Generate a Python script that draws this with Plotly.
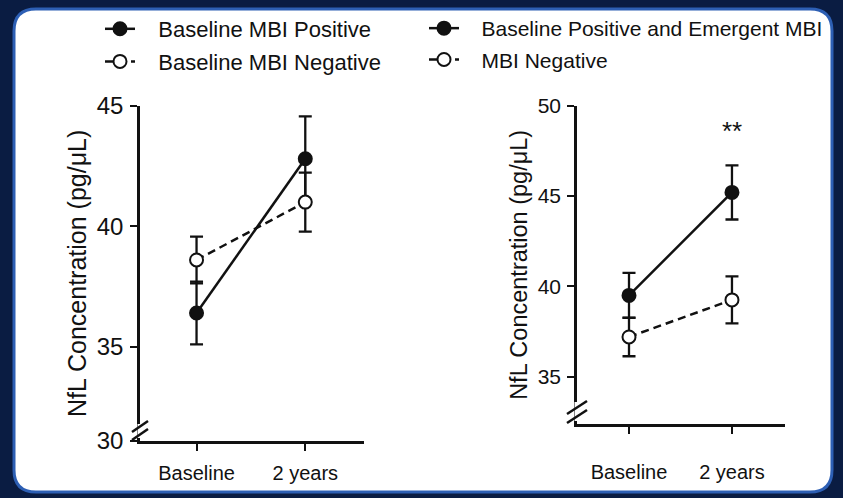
import plotly.graph_objects as go

# ---- data: NfL concentration (mean and SEM) at two visits ----
timepoints = ["Baseline", "2 years"]

left_pos_name = "Baseline MBI Positive"
left_pos_mean = [36.4, 42.8]
left_pos_sem = [1.3, 1.76]

left_neg_name = "Baseline MBI Negative"
left_neg_mean = [38.6, 41.0]
left_neg_sem = [0.97, 1.22]

right_pos_name = "Baseline Positive and Emergent MBI"
right_pos_mean = [39.5, 45.2]
right_pos_sem = [1.25, 1.5]

right_neg_name = "MBI Negative"
right_neg_mean = [37.2, 39.25]
right_neg_sem = [1.07, 1.3]

left_ticks = [35, 40, 45]
right_ticks = [35, 40, 45, 50]
left_floor_label = "30"
significance = "**"

W, H = 843, 498
FONT = "Liberation Sans, Arial, sans-serif"
INK = "#111111"
PAD = "\u00a0\u00a0\u00a0"  # extra room between legend symbol and label

# plot-area placement (pixels)
L_X0, L_X1, L_YTOP, L_YBOT = 140, 364, 105.7, 441
R_X0, R_X1, R_YTOP, R_YBOT = 577, 785, 105.7, 424

left_range = [31.09, 45]
right_range = [32.38, 50]


def series(x, y, err, name, filled, dash, xa, ya, legend, group):
    return go.Scatter(
        x=x, y=y, name=PAD + name, mode="lines+markers",
        xaxis=xa, yaxis=ya, legend=legend, legendgroup=group,
        line=dict(color=INK, width=2.5, dash=dash),
        marker=dict(size=13, symbol="circle",
                    color=INK if filled else "white",
                    line=dict(color=INK, width=2)),
        error_y=dict(type="data", array=err, visible=True,
                     color=INK, thickness=2.3, width=6.5),
        cliponaxis=False,
    )


DASH = "8px,5px"
fig = go.Figure()
fig.add_trace(series(timepoints, left_pos_mean, left_pos_sem, left_pos_name,
                     True, "solid", "x", "y", "legend", "lp"))
fig.add_trace(series(timepoints, left_neg_mean, left_neg_sem, left_neg_name,
                     False, DASH, "x", "y", "legend", "ln"))
fig.add_trace(series(timepoints, right_pos_mean, right_pos_sem, right_pos_name,
                     True, "solid", "x2", "y2", "legend2", "rp"))
fig.add_trace(series(timepoints, right_neg_mean, right_neg_sem, right_neg_name,
                     False, DASH, "x2", "y2", "legend2", "rn"))

axis_common = dict(showline=True, linecolor=INK, linewidth=2.5,
                   ticks="outside", tickcolor=INK, tickwidth=2, ticklen=7,
                   showgrid=False, zeroline=False, automargin=False,
                   tickfont=dict(family=FONT, color=INK))

legend_common = dict(xanchor="left", yanchor="top", bgcolor="rgba(0,0,0,0)",
                     itemwidth=30, traceorder="grouped", tracegroupgap=1)

fig.update_layout(
    xaxis=dict(axis_common, domain=[L_X0 / W, L_X1 / W], type="category",
               range=[-0.52, 1.54], tickfont=dict(family=FONT, size=20, color=INK),
               ticklabelstandoff=5, anchor="y"),
    yaxis=dict(axis_common, domain=[(H - L_YBOT) / H, (H - L_YTOP) / H],
               range=left_range,
               tickvals=[left_range[0]] + left_ticks,
               ticktext=[left_floor_label] + [str(t) for t in left_ticks],
               tickfont=dict(family=FONT, size=24, color=INK),
               ticklabelstandoff=2,
               title=dict(text="NfL Concentration (pg/μL)", standoff=3,
                          font=dict(family=FONT, size=25, color=INK)),
               anchor="x"),
    xaxis2=dict(axis_common, domain=[R_X0 / W, R_X1 / W], type="category",
                range=[-0.505, 1.515], tickfont=dict(family=FONT, size=20, color=INK),
                ticklabelstandoff=21, anchor="y2"),
    yaxis2=dict(axis_common, domain=[(H - R_YBOT) / H, (H - R_YTOP) / H],
                range=right_range, tickvals=right_ticks,
                tickfont=dict(family=FONT, size=21, color=INK),
                ticklabelstandoff=2,
                title=dict(text="NfL Concentration (pg/μL)", standoff=4,
                           font=dict(family=FONT, size=23.5, color=INK)),
                anchor="x2"),
    legend=dict(legend_common, x=100 / W, y=1 - 8 / H,
                font=dict(family=FONT, size=22, color=INK)),
    legend2=dict(legend_common, x=424 / W, y=1 - 8 / H,
                 font=dict(family=FONT, size=21, color=INK)),
    width=W, height=H,
    margin=dict(l=0, r=0, t=0, b=0, autoexpand=False),
    paper_bgcolor="#0a1c42",
    plot_bgcolor="rgba(0,0,0,0)",
    showlegend=True,
)

# white rounded panel behind both charts
px0, py0, px1, py1, rad = 14, 9, 832, 492, 22


def fx(v):
    return v / W


def fy(v):
    return 1 - v / H


panel = (
    f"M {fx(px0 + rad)},{fy(py0)} L {fx(px1 - rad)},{fy(py0)} "
    f"Q {fx(px1)},{fy(py0)} {fx(px1)},{fy(py0 + rad)} "
    f"L {fx(px1)},{fy(py1 - rad)} Q {fx(px1)},{fy(py1)} {fx(px1 - rad)},{fy(py1)} "
    f"L {fx(px0 + rad)},{fy(py1)} Q {fx(px0)},{fy(py1)} {fx(px0)},{fy(py1 - rad)} "
    f"L {fx(px0)},{fy(py0 + rad)} Q {fx(px0)},{fy(py0)} {fx(px0 + rad)},{fy(py0)} Z"
)
fig.add_shape(type="path", path=panel, xref="paper", yref="paper",
              fillcolor="white", line=dict(color="#2d5fb4", width=3), layer="below")


# axis-break marks at the foot of each y axis (offsets in pixels from the corner)
def axis_break(xref, yref, width_px, height_px, gap, slashes):
    fig.add_shape(type="line", xref=xref, yref=yref, x0=0, x1=0,
                  y0=gap[0] / height_px, y1=gap[1] / height_px,
                  line=dict(color="white", width=5), layer="above")
    for (ax, ay, bx, by) in slashes:
        fig.add_shape(type="line", xref=xref, yref=yref,
                      x0=ax / width_px, y0=ay / height_px,
                      x1=bx / width_px, y1=by / height_px,
                      line=dict(color=INK, width=2.5), layer="above")


axis_break("x domain", "y domain", L_X1 - L_X0, L_YBOT - L_YTOP, (3, 17),
           [(-8, 1, 8, 12), (-8, 9, 8, 20)])
axis_break("x2 domain", "y2 domain", R_X1 - R_X0, R_YBOT - R_YTOP, (3, 22),
           [(-10, 1, 10, 14), (-10, 10, 10, 23)])

fig.add_annotation(x=timepoints[1], y=48.6, xref="x2", yref="y2",
                   text=significance, showarrow=False,
                   font=dict(family=FONT, size=26, color=INK))

fig.write_html("out.html")
